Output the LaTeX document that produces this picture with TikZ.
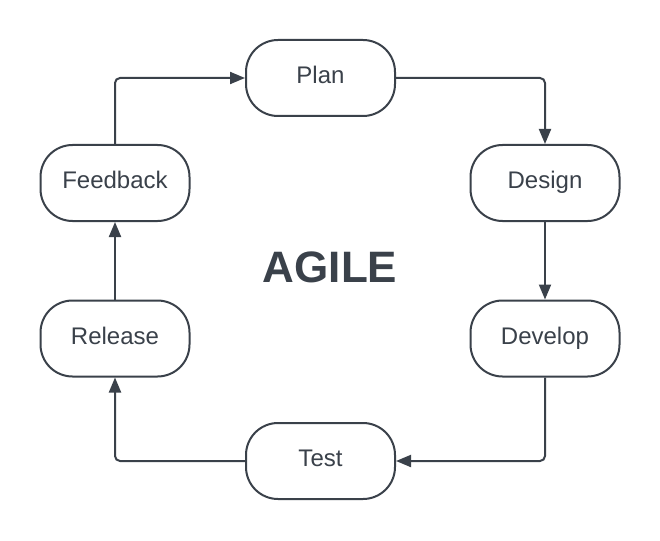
\documentclass[tikz,border=0pt]{standalone}
\usepackage{fontspec}
\setmainfont{Liberation Sans}
\usetikzlibrary{arrows.meta}
\definecolor{ink}{HTML}{3A414A}
\begin{document}
\begin{tikzpicture}[x=1pt,y=-1pt,
  stage/.style={draw=ink, line width=2pt, fill=white, rounded corners=32pt,
    minimum width=149pt, minimum height=76pt, inner sep=0pt,
    text height=17pt, text depth=5.4pt,
    text=ink, font=\fontsize{24}{28}\selectfont},
  flow/.style={draw=ink, line width=2pt, rounded corners=5pt,
    -{Triangle[length=15pt,width=12pt]}}]
\useasboundingbox (0,0) rectangle (660,540);
\node[stage] (plan) at (320.5,78) {Plan};
\node[stage] (design) at (545,183) {Design};
\node[stage] (develop) at (545,338.5) {Develop};
\node[stage] (test) at (320.5,461) {Test};
\node[stage] (release) at (115,338.5) {Release};
\node[stage] (feedback) at (115,183) {Feedback};
\node[text=ink, font=\fontsize{44}{50}\selectfont\bfseries] (title) at (330,267) {AGILE};
\draw[flow] (plan.east) -| (design.north);
\draw[flow] (design.south) -- (develop.north);
\draw[flow] (develop.south) |- (test.east);
\draw[flow] (test.west) -| (release.south);
\draw[flow] (release.north) -- (feedback.south);
\draw[flow] (feedback.north) |- (plan.west);
\end{tikzpicture}
\end{document}
